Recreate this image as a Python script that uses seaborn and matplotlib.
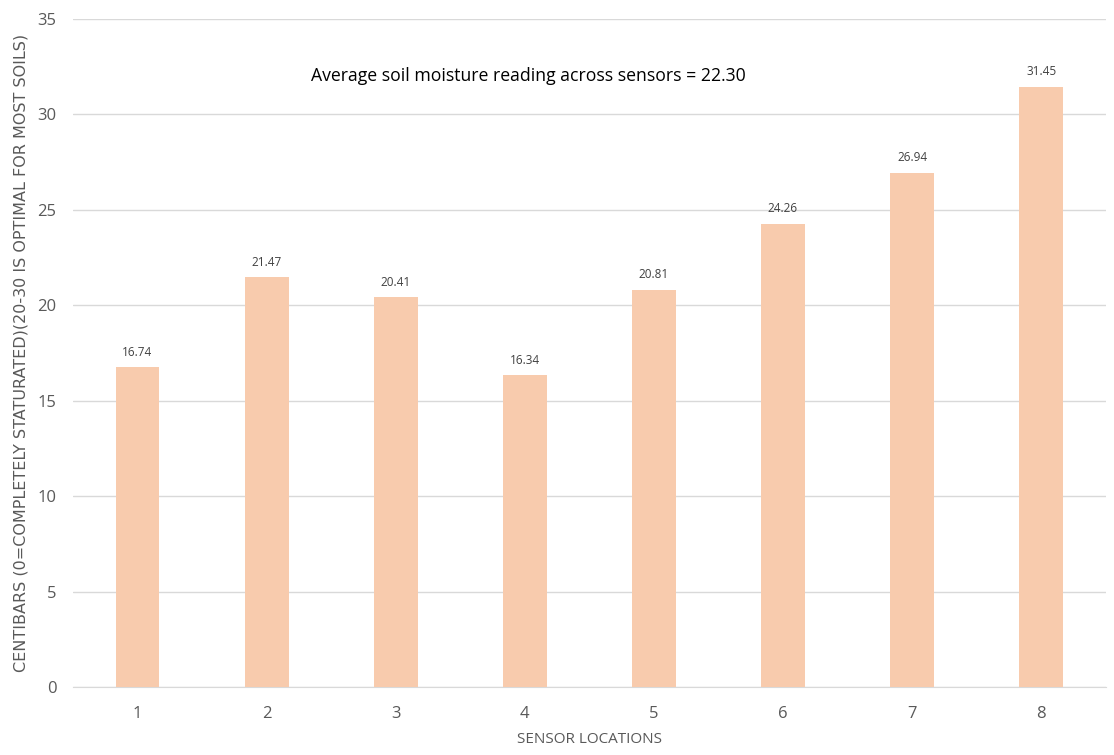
import pandas as pd
import matplotlib
matplotlib.use("Agg")
import matplotlib.pyplot as plt
import seaborn as sns

# data
sensors = ["1", "2", "3", "4", "5", "6", "7", "8"]
readings = [16.74, 21.47, 20.41, 16.34, 20.81, 24.26, 26.94, 31.45]
avg_text = "Average soil moisture reading across sensors = 22.30"

df = pd.DataFrame({"sensor": sensors, "reading": readings})

sns.set_style("white")
plt.rcParams['font.family'] = ['Open Sans', 'DejaVu Sans']

fig = plt.figure(figsize=(11.14, 7.55), dpi=100)
ax = fig.add_axes([0.0655, 0.090, 0.927, 0.885])

sns.barplot(data=df, x="sensor", y="reading", color="#F8CBAD", width=0.34,
            saturation=1, ax=ax, zorder=3, edgecolor="none")

for i, v in enumerate(readings):
    ax.text(i, v + 0.45, f"{v:.2f}", ha="center", va="bottom",
            fontsize=8.5, color="#404040")

ax.set_ylim(0, 35)
ax.set_xlim(-0.5, 7.5)
ax.set_yticks(range(0, 36, 5))
ax.grid(axis="y", color="#D9D9D9", linewidth=1, zorder=0)
for s in ["top", "right", "left"]:
    ax.spines[s].set_visible(False)
ax.spines["bottom"].set_color("#D9D9D9")
ax.tick_params(axis="y", length=0, labelsize=12, labelcolor="#595959", pad=12)
ax.tick_params(axis="x", length=0, labelsize=12, labelcolor="#595959", pad=14)

ax.set_xlabel("SENSOR LOCATIONS", fontsize=11, color="#595959", labelpad=7)
ax.set_ylabel("CENTIBARS (0=COMPLETELY STATURATED)(20-30 IS OPTIMAL FOR MOST SOILS)",
              fontsize=11.5, color="#595959", labelpad=6,
              family=['Liberation Sans Narrow', 'DejaVu Sans'])

ax.text(0.441, 0.915, avg_text, transform=ax.transAxes, ha="center",
        va="center", fontsize=12.7, color="black")

fig.savefig("out.png", dpi=100)
